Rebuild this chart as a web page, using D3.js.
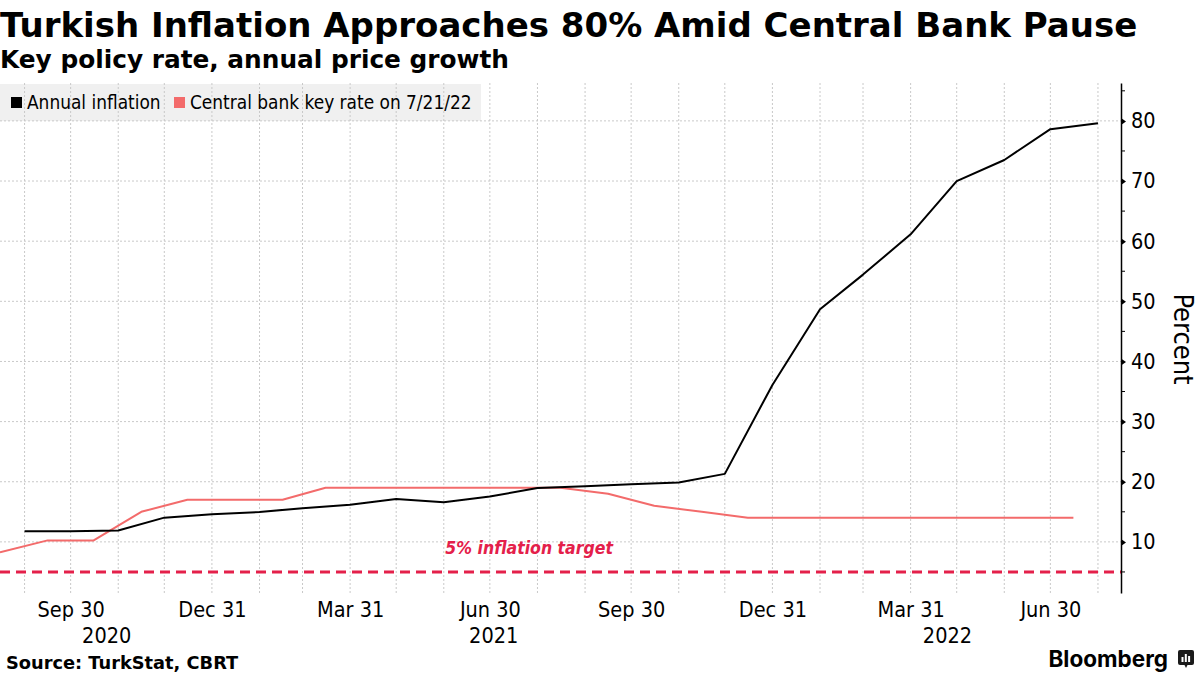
<!DOCTYPE html>
<html>
<head>
<meta charset="utf-8">
<script src="https://cdn.jsdelivr.net/npm/d3@7"></script>
<style>
  html, body { margin: 0; padding: 0; background: #fff; }
  svg { display: block; }
</style>
</head>
<body>
<script>
// ---------------- DATA ----------------
const months = ["2020-08","2020-09","2020-10","2020-11","2020-12",
  "2021-01","2021-02","2021-03","2021-04","2021-05","2021-06","2021-07",
  "2021-08","2021-09","2021-10","2021-11","2021-12",
  "2022-01","2022-02","2022-03","2022-04","2022-05","2022-06","2022-07"];
const annualInflation = [11.77, 11.75, 11.89, 14.03, 14.60,
  14.97, 15.61, 16.19, 17.14, 16.59, 17.53, 18.95,
  19.25, 19.58, 19.89, 21.31, 36.08,
  48.69, 54.44, 61.14, 69.97, 73.50, 78.62, 79.60];
const keyRate = [8.25, 10.25, 10.25, 15, 17,
  17, 17, 19, 19, 19, 19, 19,
  19, 18, 16, 15, 14,
  14, 14, 14, 14, 14, 14, 14];
const inflationTarget = 5;
const xTickDates = ["2020-09-30","2020-12-31","2021-03-31","2021-06-30",
  "2021-09-30","2021-12-31","2022-03-31","2022-06-30"];
const yearLabels = ["2020","2021","2022"];
const yTicks = [10, 20, 30, 40, 50, 60, 70, 80];
const yMinorTicks = [5, 15, 25, 35, 45, 55, 65, 75, 85];
const legendLabels = ["Annual inflation", "Central bank key rate on 7/21/22"];
const title = "Turkish Inflation Approaches 80% Amid Central Bank Pause";
const subtitle = "Key policy rate, annual price growth";
const source = "Source: TurkStat, CBRT";

// ---------------- SETUP ----------------
const W = 1200, H = 675;
const parse = d3.timeParse("%Y-%m-%d");
const parseMonth = d3.timeParse("%Y-%m");
const COND = "'DejaVu Sans Condensed', 'DejaVu Sans', sans-serif";
const BOLD = "'DejaVu Sans', Verdana, sans-serif";
const BLACK = "#000000", RED = "#f36b6b", TARGET = "#e4204a", GRID = "#c9c9c9";

const plot = { left: 0, right: 1121, top: 83, bottom: 593 };

const x = d3.scaleTime()
  .domain([parse("2020-08-15"), parse("2022-08-15")])
  .range([plot.left, plot.right]);
const y = d3.scaleLinear()
  .domain([1.5, 86.3])
  .range([plot.bottom, plot.top]);

const monthEnd = m => d3.timeDay.offset(d3.timeMonth.offset(parseMonth(m), 1), -1);
const midMonth = m => d3.timeDay.offset(parseMonth(m), 14);

const inflData = months.map((m, i) => ({ date: monthEnd(m), v: annualInflation[i] }));
const rateData = months.map((m, i) => ({ date: midMonth(m), v: keyRate[i] }));

const svg = d3.select("body").append("svg")
  .attr("width", W).attr("height", H)
  .attr("viewBox", `0 0 ${W} ${H}`);
svg.append("rect").attr("width", W).attr("height", H).attr("fill", "#fff");

// ---------------- TITLES ----------------
svg.append("text").attr("x", 0).attr("y", 37)
  .attr("font-family", BOLD).attr("font-weight", 700).attr("font-size", 34)
  .attr("fill", "#000").text(title);
svg.append("text").attr("x", 0).attr("y", 68)
  .attr("font-family", BOLD).attr("font-weight", 700).attr("font-size", 24.8)
  .attr("fill", "#000").text(subtitle);

// ---------------- LEGEND BG ----------------
svg.append("rect").attr("x", 0).attr("y", 84).attr("width", 481).attr("height", 37)
  .attr("fill", "#f0f0f0");

// ---------------- GRID ----------------
const gridG = svg.append("g");
const monthEnds = d3.timeMonth.range(parse("2020-09-01"), parse("2022-08-02"))
  .map(d => d3.timeDay.offset(d, -1));
gridG.selectAll("line.v").data(monthEnds).join("line")
  .attr("class", "v")
  .attr("x1", d => x(d)).attr("x2", d => x(d))
  .attr("y1", plot.top).attr("y2", plot.bottom + 2)
  .attr("stroke", GRID).attr("stroke-width", 1).attr("stroke-dasharray", "2,2");
gridG.selectAll("line.h").data(yTicks).join("line")
  .attr("class", "h")
  .attr("x1", plot.left).attr("x2", plot.right)
  .attr("y1", d => y(d)).attr("y2", d => y(d))
  .attr("stroke", GRID).attr("stroke-width", 1).attr("stroke-dasharray", "2,2");

// ---------------- TARGET LINE ----------------
svg.append("line")
  .attr("x1", plot.left).attr("x2", plot.right)
  .attr("y1", y(inflationTarget)).attr("y2", y(inflationTarget))
  .attr("stroke", TARGET).attr("stroke-width", 3).attr("stroke-dasharray", "10,6");
svg.append("text")
  .attr("x", x(parse("2021-06-01"))).attr("y", y(inflationTarget) - 18)
  .attr("font-family", COND).attr("font-weight", 700).attr("font-style", "italic")
  .attr("font-size", 17.5).attr("fill", TARGET)
  .text("5% inflation target");

// ---------------- LINES ----------------
const line = d3.line().x(d => x(d.date)).y(d => y(d.v));
svg.append("path").datum(rateData).attr("d", line)
  .attr("fill", "none").attr("stroke", RED).attr("stroke-width", 2)
  .attr("stroke-linejoin", "round");
svg.append("path").datum(inflData).attr("d", line)
  .attr("fill", "none").attr("stroke", BLACK).attr("stroke-width", 2)
  .attr("stroke-linejoin", "round");

// ---------------- Y AXIS ----------------
const yAxis = d3.axisRight(y).tickValues(yTicks).tickSize(0).tickPadding(10)
  .tickFormat(d3.format("d"));
const yg = svg.append("g").attr("transform", `translate(${plot.right},0)`).call(yAxis);
yg.select(".domain").attr("stroke", "#000").attr("stroke-width", 1.5);
yg.selectAll(".tick text").attr("font-family", COND).attr("font-size", 21.5).attr("fill", "#000");
yg.selectAll(".tick").append("path").attr("d", "M0,-3.5L5,0L0,3.5Z").attr("fill", "#000");
yg.selectAll("line.minor").data(yMinorTicks).join("line").attr("class", "minor")
  .attr("x1", 0).attr("x2", 4).attr("y1", d => y(d)).attr("y2", d => y(d))
  .attr("stroke", "#000").attr("stroke-width", 1);

svg.append("text")
  .attr("transform", `translate(1174, 339) rotate(90)`)
  .attr("text-anchor", "middle")
  .attr("font-family", COND).attr("font-size", 27).attr("fill", "#000")
  .text("Percent");

// ---------------- X AXIS ----------------
const xAxis = d3.axisBottom(x).tickValues(xTickDates.map(parse)).tickSize(0).tickPadding(0)
  .tickFormat(d3.timeFormat("%b %d"));
const xg = svg.append("g").attr("transform", `translate(0,${plot.bottom})`).call(xAxis);
xg.select(".domain").remove();
xg.selectAll(".tick text").attr("font-family", COND).attr("font-size", 21.5).attr("fill", "#000")
  .attr("dy", null).attr("y", 24);

const [d0, d1] = x.domain();
svg.append("g").selectAll("text").data(yearLabels).join("text")
  .attr("x", yr => {
    const s = d3.max([d0, parse(yr + "-01-01")]);
    const e = d3.min([d1, parse((+yr + 1) + "-01-01")]);
    return (x(s) + x(e)) / 2;
  })
  .attr("y", 643).attr("text-anchor", "middle")
  .attr("font-family", COND).attr("font-size", 21.5).attr("fill", "#000")
  .text(d => d);

// ---------------- LEGEND ----------------
const lg = svg.append("g");
const legendColors = [BLACK, RED];
const legendX = [11, 174];
legendLabels.forEach((lab, i) => {
  lg.append("rect").attr("x", legendX[i]).attr("y", 97).attr("width", 11).attr("height", 11)
    .attr("fill", legendColors[i]);
  lg.append("text").attr("x", legendX[i] + 16).attr("y", 109)
    .attr("font-family", COND).attr("font-size", 18.9).attr("fill", "#000").text(lab);
});

// ---------------- FOOTER ----------------
svg.append("text").attr("x", 6).attr("y", 669)
  .attr("font-family", BOLD).attr("font-weight", 700).attr("font-size", 17.8)
  .attr("fill", "#000").text(source);

svg.append("text").attr("x", 1168).attr("y", 667).attr("text-anchor", "end")
  .attr("font-family", "Inter, 'Open Sans', sans-serif").attr("font-weight", 700).attr("font-size", 22.5)
  .attr("fill", "#000").text("Bloomberg");
const logo = svg.append("g").attr("transform", "translate(1178,650)");
logo.append("rect").attr("width", 16).attr("height", 15).attr("rx", 2).attr("fill", "#1a1a1a");
logo.append("path").attr("d", "M6,14L8,18L10,14Z").attr("fill", "#1a1a1a");
[[3.5, 7, 5], [6.8, 4, 8], [10.1, 6, 6]].forEach(([bx, by, bh]) =>
  logo.append("rect").attr("x", bx).attr("y", by).attr("width", 2).attr("height", bh).attr("fill", "#fff"));
</script>
</body>
</html>
